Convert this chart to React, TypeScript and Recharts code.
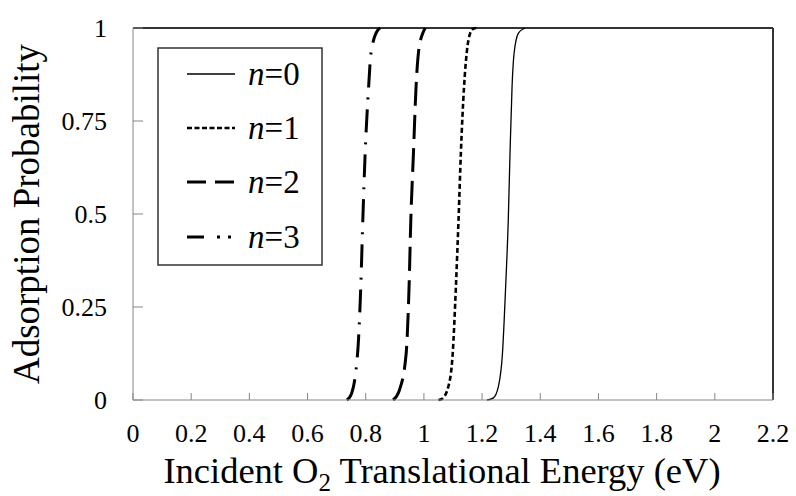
import React from 'react';
import { LineChart, Line, XAxis, YAxis, ReferenceLine } from 'recharts';

const energyN0 = [1.217, 1.238, 1.256, 1.27, 1.281, 1.29, 1.296, 1.303, 1.31, 1.325, 1.348];
const probN0 = [0, 0.005, 0.036, 0.125, 0.305, 0.484, 0.663, 0.842, 0.932, 0.986, 1];

const energyN1 = [1.05, 1.062, 1.084, 1.099, 1.11, 1.119, 1.127, 1.138, 1.147, 1.159, 1.17, 1.18];
const probN1 = [0, 0.003, 0.036, 0.125, 0.305, 0.484, 0.663, 0.842, 0.932, 0.986, 0.998, 1];

const energyN2 = [0.894, 0.916, 0.939, 0.949, 0.955, 0.964, 0.973, 0.981, 0.996, 1.005];
const probN2 = [0, 0.027, 0.125, 0.305, 0.484, 0.663, 0.842, 0.932, 0.986, 1];

const energyN3 = [0.735, 0.749, 0.772, 0.783, 0.79, 0.798, 0.81, 0.818, 0.842, 0.85];
const probN3 = [0, 0.013, 0.125, 0.305, 0.484, 0.663, 0.842, 0.932, 0.995, 1];

const seriesLabels = ['0', '1', '2', '3'];
const xTicks = [0, 0.2, 0.4, 0.6, 0.8, 1, 1.2, 1.4, 1.6, 1.8, 2, 2.2];
const yTicks = [0, 0.25, 0.5, 0.75, 1];

const FONT = '"Liberation Serif", "Times New Roman", serif';
const AXIS = '#868686';

const toPoints = (xs: number[], ys: number[]) => xs.map((e, i) => ({ e, p: ys[i] }));

const SERIES = [
  { key: 'n0', data: toPoints(energyN0, probN0), dash: undefined, width: 1.3, legendDash: undefined },
  { key: 'n1', data: toPoints(energyN1, probN1), dash: '5 3', width: 2.6, legendDash: '5 2.5' },
  { key: 'n2', data: toPoints(energyN2, probN2), dash: '24 9', width: 3, legendDash: '19 9' },
  { key: 'n3', data: toPoints(energyN3, probN3), dash: '23 10 2 10', width: 3, legendDash: '17 13 3 8 3' },
];

const XTitle = () => (
  <text x={442} y={483} textAnchor="middle" fontFamily={FONT} fontSize={36.5} fill="#000">
    <tspan>Incident O</tspan>
    <tspan fontSize={25} dy={8}>2</tspan>
    <tspan dy={-8}> Translational Energy (eV)</tspan>
  </text>
);

const YTitle = () => (
  <text
    x={39}
    y={214}
    transform="rotate(-90 39 214)"
    textAnchor="middle"
    fontFamily={FONT}
    fontSize={37}
    fill="#000"
  >
    Adsorption Probability
  </text>
);

const LegendBox = () => {
  const rowY = [27, 81, 135, 190];
  return (
    <svg
      width={168}
      height={220}
      style={{ position: 'absolute', left: 157, top: 47 }}
    >
      <rect x={1} y={1} width={164} height={217} fill="#fff" stroke="#333" strokeWidth={1.5} />
      {SERIES.map((s, i) => (
        <g key={s.key}>
          <line
            x1={30}
            x2={78}
            y1={rowY[i]}
            y2={rowY[i]}
            stroke="#000"
            strokeWidth={s.width}
            strokeDasharray={s.legendDash}
          />
          <text x={91} y={rowY[i] + 11} fontFamily={FONT} fontSize={33} fill="#000">
            <tspan fontStyle="italic">n</tspan>
            <tspan>={seriesLabels[i]}</tspan>
          </text>
        </g>
      ))}
    </svg>
  );
};

export default function App() {
  return (
    <div
      style={{
        position: 'absolute',
        left: 0,
        top: 0,
        width: 796,
        height: 496,
        background: '#fff',
        fontFamily: FONT,
      }}
    >
      <LineChart
        width={796}
        height={496}
        margin={{ top: 28, right: 23, left: 0, bottom: 0 }}
        style={{ fontFamily: FONT }}
      >
        <XAxis
          type="number"
          dataKey="e"
          domain={[0, 2.2]}
          ticks={xTicks}
          interval={0}
          height={96}
          tickSize={-7}
          tickMargin={31}
          axisLine={{ stroke: AXIS }}
          tickLine={{ stroke: AXIS }}
          tick={{ fill: '#000', fontSize: 26, fontFamily: FONT }}
          allowDuplicatedCategory={false}
          label={{ content: () => <XTitle /> }}
        />
        <YAxis
          type="number"
          domain={[0, 1]}
          ticks={yTicks}
          interval={0}
          width={133}
          tickSize={-10}
          tickMargin={36}
          axisLine={{ stroke: AXIS }}
          tickLine={{ stroke: AXIS }}
          tick={{ fill: '#000', fontSize: 26, fontFamily: FONT }}
          label={{ content: () => <YTitle /> }}
        />
        <ReferenceLine y={1} stroke="#333" strokeWidth={2} />
        <ReferenceLine x={2.2} stroke="#333" strokeWidth={2} />
        {SERIES.map((s) => (
          <Line
            key={s.key}
            data={s.data}
            dataKey="p"
            type="monotone"
            stroke="#000"
            strokeWidth={s.width}
            strokeDasharray={s.dash}
            dot={false}
            activeDot={false}
            isAnimationActive={false}
          />
        ))}
      </LineChart>
      <LegendBox />
    </div>
  );
}
